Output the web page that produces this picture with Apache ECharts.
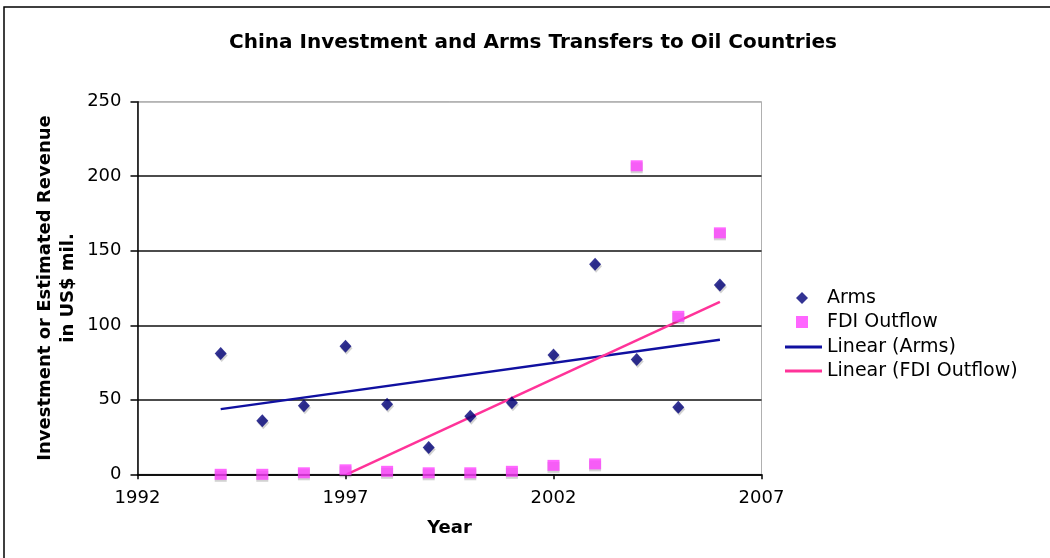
<!DOCTYPE html>
<html>
<head>
<meta charset="utf-8">
<style>
  html, body { margin: 0; padding: 0; background: #fff; }
  #chart { width: 1050px; height: 558px; }
</style>
<script src="https://cdn.jsdelivr.net/npm/echarts@6/dist/echarts.min.js"></script>
</head>
<body>
<div id="chart"></div>
<script>
// Years and values (US$ mil.)
const years = [1994, 1995, 1996, 1997, 1998, 1999, 2000, 2001, 2002, 2003, 2004, 2005, 2006];
const arms = [81, 36, 46, 86, 47, 18, 39, 48, 80, 141, 77, 45, 127];
const fdiOutflow = [0, 0, 1, 3, 2, 1, 1, 2, 6, 7, 207, 106, 162];

const yTicks = [0, 50, 100, 150, 200, 250];
const xTicks = [1992, 1997, 2002, 2007];

// Ordinary least-squares fit, used for the "Linear (...)" trend lines
function linearFit(xs, ys) {
  const n = xs.length;
  const mx = xs.reduce((a, b) => a + b, 0) / n;
  const my = ys.reduce((a, b) => a + b, 0) / n;
  let sxy = 0, sxx = 0;
  for (let i = 0; i < n; i++) {
    sxy += (xs[i] - mx) * (ys[i] - my);
    sxx += (xs[i] - mx) * (xs[i] - mx);
  }
  const slope = sxy / sxx;
  return { slope, intercept: my - slope * mx };
}

// Trend segment across the data range, cut where it drops below the axis minimum
function trendSegment(xs, ys, yMin) {
  const f = linearFit(xs, ys);
  let x0 = xs[0];
  const x1 = xs[xs.length - 1];
  if (f.slope * x0 + f.intercept < yMin && f.slope > 0) {
    x0 = (yMin - f.intercept) / f.slope;
  }
  return [[x0, f.slope * x0 + f.intercept], [x1, f.slope * x1 + f.intercept]];
}

const FONT = '"DejaVu Sans", Verdana, sans-serif';
const ARMS_COLOR = '#000078';
const FDI_COLOR = '#ff40ff';
const ARMS_TREND = '#1010a0';
const FDI_TREND = '#ff3399';

const chart = echarts.init(document.getElementById('chart'), null, { renderer: 'canvas' });

chart.setOption({
  backgroundColor: '#ffffff',
  animation: false,
  graphic: [{
    type: 'rect',
    z: -1,
    shape: { x: 4, y: 7, width: 1100, height: 600 },
    style: { fill: 'none', stroke: '#000', lineWidth: 1.5 }
  }],
  title: {
    text: 'China Investment and Arms Transfers to Oil Countries',
    left: 533,
    textAlign: 'center',
    top: 33,
    padding: 0,
    textStyle: { fontFamily: FONT, fontSize: 20, fontWeight: 'bold', color: '#000' }
  },
  legend: [{
    orient: 'vertical',
    left: 796,
    top: 287,
    padding: 0,
    itemWidth: 12,
    itemHeight: 12,
    itemGap: 2,
    data: [
      { name: 'Arms', icon: 'diamond' },
      { name: 'FDI Outflow', icon: 'rect' }
    ],
    textStyle: { fontFamily: FONT, fontSize: 19, color: '#000', lineHeight: 22, padding: [0, 0, 0, 14] }
  }, {
    orient: 'vertical',
    left: 785,
    top: 336,
    padding: 0,
    itemWidth: 37,
    itemHeight: 3,
    itemGap: 2,
    data: [
      { name: 'Linear (Arms)', icon: 'rect' },
      { name: 'Linear (FDI Outflow)', icon: 'rect' }
    ],
    textStyle: { fontFamily: FONT, fontSize: 19, color: '#000', lineHeight: 22 }
  }],
  grid: {
    left: 137.5,
    right: 288.5,
    top: 101.7,
    bottom: 83.7,
    show: true,
    borderColor: '#b0b0b0',
    borderWidth: 1
  },
  xAxis: {
    type: 'value',
    min: xTicks[0],
    max: xTicks[xTicks.length - 1],
    interval: 5,
    name: 'Year',
    nameLocation: 'middle',
    nameGap: 45,
    nameTextStyle: { fontFamily: FONT, fontSize: 18, fontWeight: 'bold', color: '#000' },
    axisLine: { lineStyle: { color: '#000', width: 1.5 } },
    axisTick: { show: true, length: 5, lineStyle: { color: '#000', width: 1.5 } },
    axisLabel: { fontFamily: FONT, fontSize: 18, color: '#000', margin: 15, formatter: v => String(v) },
    splitLine: { show: false }
  },
  yAxis: {
    type: 'value',
    min: yTicks[0],
    max: yTicks[yTicks.length - 1],
    interval: 50,
    name: 'Investment or Estimated Revenue\nin US$ mil.',
    nameLocation: 'middle',
    nameGap: 58,
    nameMoveOverlap: false,
    nameTextStyle: { fontFamily: FONT, fontSize: 18, fontWeight: 'bold', color: '#000', lineHeight: 23 },
    axisLine: { show: true, lineStyle: { color: '#000', width: 1.5 } },
    axisTick: { show: true, length: 7, lineStyle: { color: '#000', width: 1.5 } },
    axisLabel: { fontFamily: FONT, fontSize: 18, color: '#000', margin: 16 },
    splitLine: {
      show: true,
      lineStyle: { color: ['#111', '#111', '#111', '#111', '#111', '#b0b0b0'], width: 1.5 }
    }
  },
  series: [{
    name: 'Arms',
    type: 'scatter',
    symbol: 'diamond',
    symbolSize: [12, 13],
    color: ARMS_COLOR,
    itemStyle: { color: ARMS_COLOR, shadowColor: 'rgba(0,0,0,0.22)', shadowOffsetX: 1, shadowOffsetY: 2, shadowBlur: 0 },
    data: years.map((y, i) => [y, arms[i]]),
    z: 4
  }, {
    name: 'FDI Outflow',
    type: 'scatter',
    symbol: 'rect',
    symbolSize: [12, 11],
    color: FDI_COLOR,
    itemStyle: { color: FDI_COLOR, shadowColor: 'rgba(0,0,0,0.22)', shadowOffsetX: 0, shadowOffsetY: 2, shadowBlur: 0 },
    data: years.map((y, i) => [y, fdiOutflow[i]]),
    z: 4
  }, {
    name: 'Linear (Arms)',
    type: 'line',
    color: ARMS_TREND,
    showSymbol: false,
    symbol: 'none',
    lineStyle: { color: ARMS_TREND, width: 2.5 },
    data: trendSegment(years, arms, 0),
    z: 3
  }, {
    name: 'Linear (FDI Outflow)',
    type: 'line',
    color: FDI_TREND,
    showSymbol: false,
    symbol: 'none',
    lineStyle: { color: FDI_TREND, width: 2.5 },
    data: trendSegment(years, fdiOutflow, 0),
    z: 3
  }]
});
</script>
</body>
</html>
